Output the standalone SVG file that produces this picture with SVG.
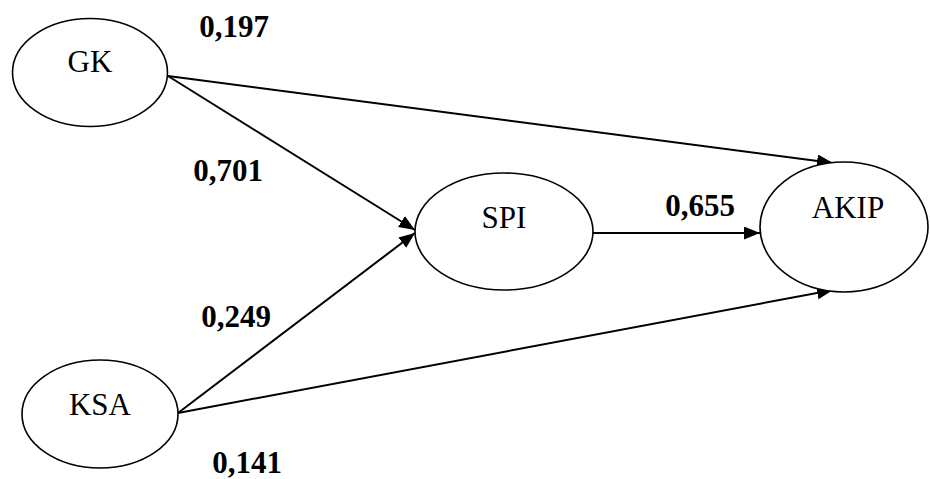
<svg xmlns="http://www.w3.org/2000/svg" width="930" height="479" viewBox="0 0 930 479">
<style>
.node ellipse{fill:#fff;stroke:#000;stroke-width:1.6}
.node text{font-family:"Liberation Serif","Times New Roman",serif;font-size:31px;text-anchor:middle;fill:#000}
.lbl{font-family:"Liberation Serif","Times New Roman",serif;font-size:31px;font-weight:bold;text-anchor:middle;fill:#000}
.edge{stroke:#000;stroke-width:2;fill:none;marker-end:url(#ah)}
</style>
<defs>
<marker id="ah" markerUnits="userSpaceOnUse" markerWidth="18" markerHeight="14" refX="16" refY="6.5" orient="auto">
<path d="M0,0 L16,6.5 L0,13 z" fill="#000"/>
</marker>
</defs>
<rect width="930" height="479" fill="#fff"/>
<g id="connectors">
<line class="edge" x1="168" y1="76" x2="833" y2="163"/>
<line class="edge" x1="168" y1="76" x2="415" y2="230"/>
<line class="edge" x1="178" y1="413" x2="415" y2="233"/>
<line class="edge" x1="178" y1="413" x2="833" y2="290"/>
<line class="edge" x1="593" y1="233" x2="760" y2="233"/>
</g>
<g id="GK" class="node"><ellipse cx="90" cy="72.5" rx="77.5" ry="54"/><text x="90" y="72">GK</text></g>
<g id="KSA" class="node"><ellipse cx="100" cy="414" rx="78" ry="54"/><text x="100" y="415">KSA</text></g>
<g id="SPI" class="node"><ellipse cx="504" cy="231.5" rx="89" ry="58.5"/><text x="504" y="228">SPI</text></g>
<g id="AKIP" class="node"><ellipse cx="844" cy="227" rx="84" ry="65"/><text x="848" y="218">AKIP</text></g>
<g id="labels">
<text class="lbl" x="234" y="37">0,197</text>
<text class="lbl" x="228" y="181">0,701</text>
<text class="lbl" x="700" y="216">0,655</text>
<text class="lbl" x="236" y="327">0,249</text>
<text class="lbl" x="247" y="473">0,141</text>
</g>
</svg>
